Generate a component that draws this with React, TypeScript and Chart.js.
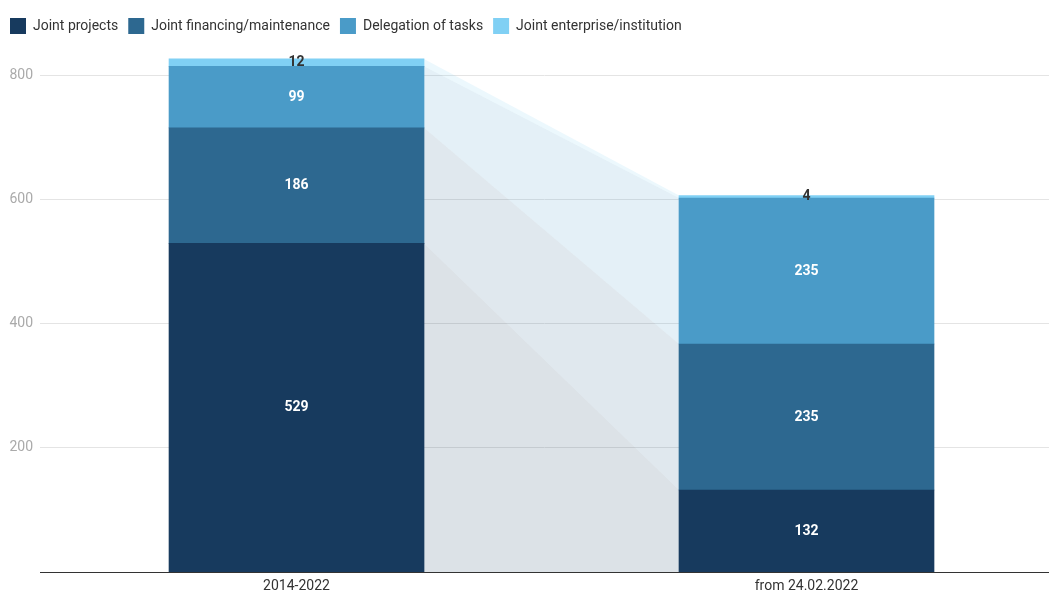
import React, { useEffect, useRef } from "react";
import { Chart, registerables } from "chart.js";

Chart.register(...registerables);

const categories = ["2014-2022", "from 24.02.2022"];
const seriesNames = [
  "Joint projects",
  "Joint financing/maintenance",
  "Delegation of tasks",
  "Joint enterprise/institution",
];
const jointProjects = [529, 132];
const jointFinancing = [186, 235];
const delegation = [99, 235];
const jointEnterprise = [12, 4];
const yTicks = [200, 400, 600, 800];

const colors = ["#173a5e", "#2d6890", "#4a9bc8", "#80d0f4"];
const labelColors = ["#ffffff", "#ffffff", "#ffffff", "#333333"];

const connectorPlugin = {
  id: "connectors",
  beforeDatasetsDraw(chart: any) {
    const ctx = chart.ctx;
    ctx.save();
    chart.data.datasets.forEach((ds: any, di: number) => {
      const meta = chart.getDatasetMeta(di);
      const a = meta.data[0] as any;
      const b = meta.data[1] as any;
      if (!a || !b) return;
      const ax = a.x + a.width / 2;
      const bx = b.x - b.width / 2;
      ctx.beginPath();
      ctx.moveTo(ax, a.y);
      ctx.lineTo(bx, b.y);
      ctx.lineTo(bx, b.base);
      ctx.lineTo(ax, a.base);
      ctx.closePath();
      ctx.globalAlpha = 0.15;
      ctx.fillStyle = ds.backgroundColor;
      ctx.fill();
    });
    ctx.restore();
  },
};

const labelPlugin = {
  id: "segLabels",
  afterDatasetsDraw(chart: any) {
    const ctx = chart.ctx;
    ctx.save();
    ctx.font = "bold 14px Roboto";
    ctx.textAlign = "center";
    ctx.textBaseline = "middle";
    chart.data.datasets.forEach((ds: any, di: number) => {
      const meta = chart.getDatasetMeta(di);
      meta.data.forEach((el: any, i: number) => {
        const v = ds.data[i].y;
        ctx.fillStyle = labelColors[di];
        ctx.fillText(String(v), el.x, (el.y + el.base) / 2);
      });
    });
    ctx.restore();
  },
};

export default function App() {
  const ref = useRef<HTMLCanvasElement | null>(null);
  useEffect(() => {
    document.body.style.margin = "0";
    if (!ref.current) return;
    const series = [jointProjects, jointFinancing, delegation, jointEnterprise];
    const chart = new Chart(ref.current, {
      type: "bar",
      data: {
        datasets: series.map((vals, si) => ({
          label: seriesNames[si],
          data: vals.map((v, i) => ({ x: i, y: v })),
          backgroundColor: colors[si],
          borderWidth: 0,
          barThickness: 255,
        })),
      },
      options: {
        animation: false,
        responsive: false,
        maintainAspectRatio: false,
        layout: { padding: { left: 0, right: 0, top: 8, bottom: 0 } },
        plugins: {
          legend: {
            position: "top",
            align: "start",
            labels: {
              boxWidth: 16,
              boxHeight: 16,
              color: "#333333",
              font: { family: "Roboto", size: 14 },
              padding: 10,
            },
          },
          tooltip: { enabled: false },
        },
        scales: {
          x: {
            type: "linear",
            stacked: true,
            offset: false,
            min: -0.503,
            max: 1.4755,
            afterBuildTicks: (s: any) => {
              s.ticks = categories.map((_, i) => ({ value: i }));
            },
            afterFit: (s: any) => {
              s.height = 20;
            },
            ticks: {
              color: "#333333",
              font: { family: "Roboto", size: 14 },
              padding: 6,
              callback: (v: any) => categories[v] ?? "",
            },
            grid: { display: false, drawTicks: false },
            border: { display: true, color: "#333333", width: 1 },
          },
          y: {
            stacked: true,
            min: 0,
            max: 850,
            afterBuildTicks: (s: any) => {
              s.ticks = yTicks.map((v) => ({ value: v }));
            },
            afterFit: (s: any) => {
              s.width = 40;
            },
            ticks: {
              color: "#aaaaaa",
              font: { family: "Roboto", size: 14 },
              padding: 7,
            },
            grid: { color: "#e4e4e4", drawTicks: false },
            border: { display: false },
          },
        },
      },
      plugins: [connectorPlugin, labelPlugin],
    } as any);
    return () => chart.destroy();
  }, []);
  return (
    <div style={{ width: 1049, height: 592 }}>
      <canvas ref={ref} width={1049} height={592} />
    </div>
  );
}
